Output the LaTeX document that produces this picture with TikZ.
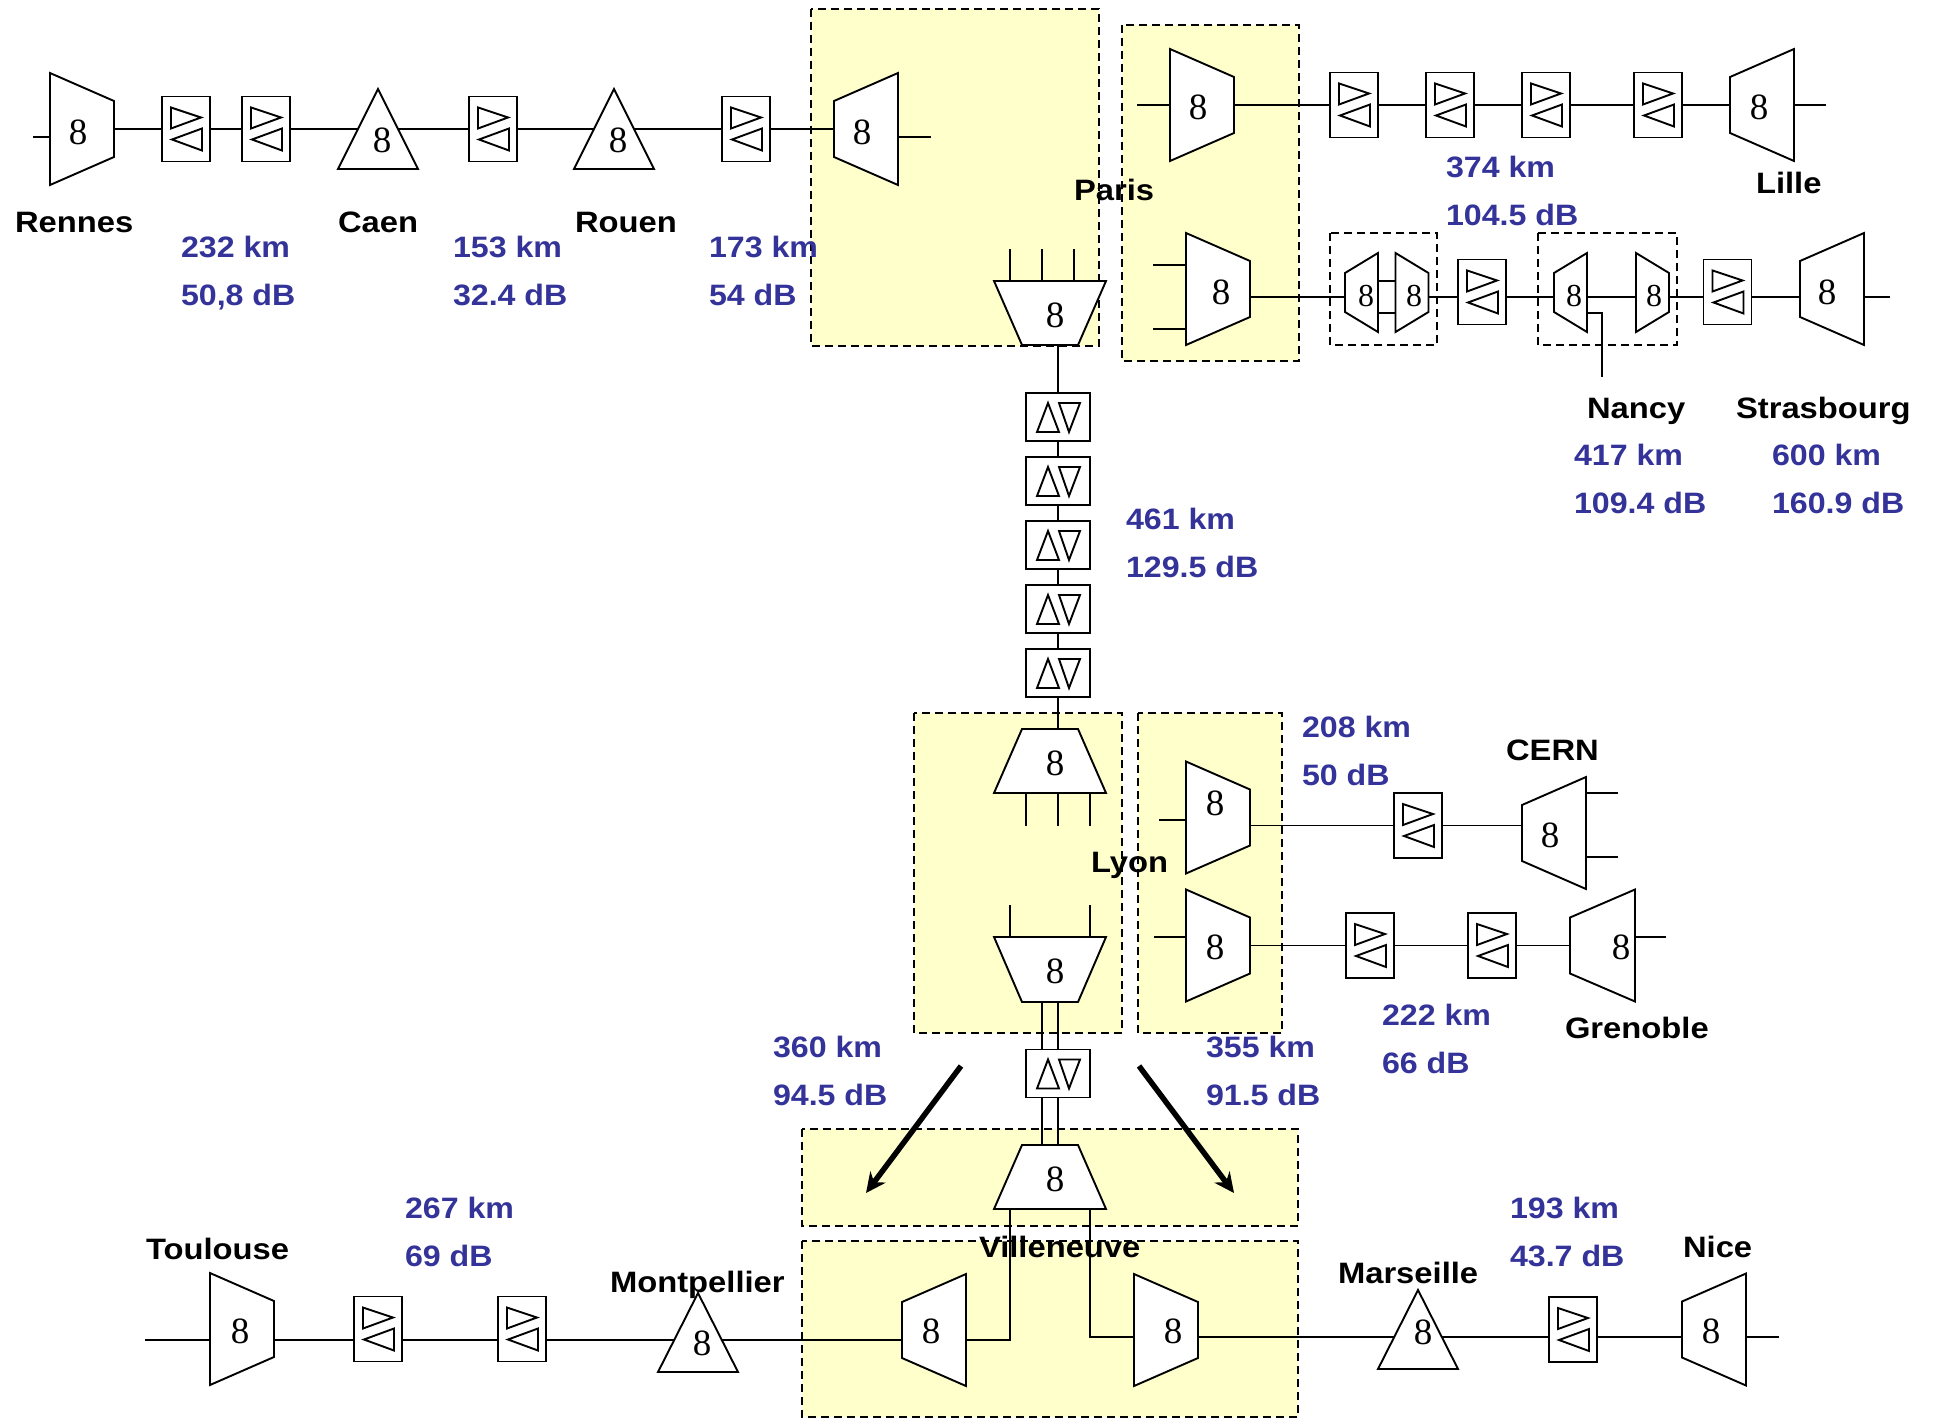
\documentclass[tikz,border=0pt]{standalone}
\usepackage{fontspec}
\usetikzlibrary{arrows.meta,calc}
\newfontfamily\lblfont{Liberation Sans}[FakeStretch=1.11]
\newfontfamily\kmfont{Liberation Sans}[FakeStretch=1.09]
\newfontfamily\digfont{Liberation Serif}
\definecolor{regionyellow}{HTML}{FFFFCC}
\definecolor{kmblue}{HTML}{333399}
\pgfdeclarelayer{bg}\pgfdeclarelayer{wires}\pgfsetlayers{bg,wires,main}
\tikzset{
 ln/.style={line width=1.9pt,line join=miter},
 wire/.style={ln},
 hollow/.style={ln,fill=white},
 region/.style={line width=1.6pt,dash pattern=on 8pt off 5pt,fill=regionyellow},
 plainregion/.style={line width=1.6pt,dash pattern=on 8pt off 5pt},
 slot/.style={inner sep=0pt,outer sep=0pt,anchor=center},
 ampbox/.style={ln,fill=white,inner sep=0pt,outer sep=0pt,anchor=center,rectangle,draw},
 digit/.style={inner sep=0pt,outer sep=0pt,anchor=center,font=\digfont\fontsize{37}{37}\selectfont},
 smalldigit/.style={inner sep=0pt,outer sep=0pt,anchor=center,font=\digfont\fontsize{32}{32}\selectfont},
 city/.style={inner sep=0pt,outer sep=0pt,anchor=base west,font=\lblfont\bfseries\fontsize{29.5}{29.5}\selectfont},
 dist/.style={inner sep=0pt,outer sep=0pt,anchor=base west,text=kmblue,font=\kmfont\bfseries\fontsize{29.5}{29.5}\selectfont},
 bigarrow/.style={line width=5.5pt,-{Stealth[length=20pt,width=19pt]}}
}
% name, cx, cy, w, h, cut, 8x, 8y
\newcommand{\muxW}[8]{\node[slot,minimum width=#4pt,minimum height=#5pt] (#1) at (#2,#3) {};
 \draw[hollow] (#1.north west) -- ([shift={(0,#6)}]#1.north east) -- ([shift={(0,-#6)}]#1.south east) -- (#1.south west) -- cycle;
 \node[digit] (#1-d) at (#7,#8) {8};}
\newcommand{\muxE}[8]{\node[slot,minimum width=#4pt,minimum height=#5pt] (#1) at (#2,#3) {};
 \draw[hollow] (#1.north east) -- (#1.south east) -- ([shift={(0,-#6)}]#1.south west) -- ([shift={(0,#6)}]#1.north west) -- cycle;
 \node[digit] (#1-d) at (#7,#8) {8};}
\newcommand{\muxN}[8]{\node[slot,minimum width=#4pt,minimum height=#5pt] (#1) at (#2,#3) {};
 \draw[hollow] (#1.north west) -- (#1.north east) -- ([shift={(-#6,0)}]#1.south east) -- ([shift={(#6,0)}]#1.south west) -- cycle;
 \node[digit] (#1-d) at (#7,#8) {8};}
\newcommand{\muxS}[8]{\node[slot,minimum width=#4pt,minimum height=#5pt] (#1) at (#2,#3) {};
 \draw[hollow] (#1.south west) -- (#1.south east) -- ([shift={(-#6,0)}]#1.north east) -- ([shift={(#6,0)}]#1.north west) -- cycle;
 \node[digit] (#1-d) at (#7,#8) {8};}
\newcommand{\smallW}[5]{\node[slot,minimum width=33pt,minimum height=79pt] (#1) at (#2,#3) {};
 \draw[hollow] (#1.north west) -- ([shift={(0,20)}]#1.north east) -- ([shift={(0,-20)}]#1.south east) -- (#1.south west) -- cycle;
 \node[smalldigit] (#1-d) at (#4,#5) {8};}
\newcommand{\smallE}[5]{\node[slot,minimum width=33pt,minimum height=79pt] (#1) at (#2,#3) {};
 \draw[hollow] (#1.north east) -- (#1.south east) -- ([shift={(0,-20)}]#1.south west) -- ([shift={(0,20)}]#1.north west) -- cycle;
 \node[smalldigit] (#1-d) at (#4,#5) {8};}
% name, cx, cy, w, h, 8x, 8y
\newcommand{\tri}[7]{\node[slot,minimum width=#4pt,minimum height=#5pt] (#1) at (#2,#3) {};
 \draw[hollow] (#1.north) -- (#1.south east) -- (#1.south west) -- cycle;
 \node[digit] (#1-d) at (#6,#7) {8};}
\newcommand{\ampH}[3]{\node[ampbox,minimum width=48pt,minimum height=65pt] (#1) at (#2,#3) {};
 \draw[ln] ([shift={(9,11)}]#1.north west) -- ([shift={(39,21)}]#1.north west) -- ([shift={(9,32)}]#1.north west) -- cycle;
 \draw[ln] ([shift={(40,32)}]#1.north west) -- ([shift={(10,43)}]#1.north west) -- ([shift={(40,54)}]#1.north west) -- cycle;}
\newcommand{\ampV}[3]{\node[ampbox,minimum width=64pt,minimum height=48pt] (#1) at (#2,#3) {};
 \draw[ln] ([shift={(11,39)}]#1.north west) -- ([shift={(22,10)}]#1.north west) -- ([shift={(33,39)}]#1.north west) -- cycle;
 \draw[ln] ([shift={(33,10)}]#1.north west) -- ([shift={(54,10)}]#1.north west) -- ([shift={(43,39)}]#1.north west) -- cycle;}
\begin{document}
\begin{tikzpicture}[x=1pt,y=-1pt]
\useasboundingbox (0,0) rectangle (1937,1418);
% regions
\begin{pgfonlayer}{bg}
\draw[region] (811,9) rectangle (1099,346);
\draw[region] (1122,25) rectangle (1299,361);
\draw[region] (914,713) rectangle (1122,1033);
\draw[region] (1138,713) rectangle (1282,1033);
\draw[region] (802,1129) rectangle (1298,1226);
\draw[region] (802,1241) rectangle (1298,1417);
\draw[plainregion] (1330,233) rectangle (1437,345);
\draw[plainregion] (1538,233) rectangle (1677,345);
\end{pgfonlayer}
% top-left row
\muxW{rennes}{82}{129}{64}{112}{28}{78}{132}
\ampH{ampA}{186}{129}
\ampH{ampB}{266}{129}
\tri{caen}{378}{129}{80}{80}{382}{140}
\ampH{ampC}{493}{129}
\tri{rouen}{614}{129}{80}{80}{618}{140}
\ampH{ampD}{746}{129}
\muxE{parisW}{866}{129}{64}{112}{28}{862}{132}
% Paris - Lille
\muxW{parisL}{1202}{105}{64}{112}{28}{1198}{107}
\ampH{ampE}{1354}{105}
\ampH{ampF}{1450}{105}
\ampH{ampG}{1546}{105}
\ampH{ampH}{1658}{105}
\muxE{lille}{1762}{105}{64}{112}{28}{1759}{107}
% Paris - Strasbourg
\muxW{parisS}{1218}{289}{64}{112}{28}{1221}{292}
\smallE{oadmA}{1361.5}{292.5}{1366}{296}
\smallW{oadmB}{1412}{292.5}{1414}{296}
\ampH{ampI}{1482}{292}
\smallE{nancyA}{1570.5}{292.5}{1574}{296}
\smallW{nancyB}{1652.5}{292.5}{1654}{296}
\ampH{ampJ}{1727.5}{292}
\muxE{stras}{1832}{289}{64}{112}{28}{1827}{292}
% Paris - Lyon
\muxN{parisD}{1050}{313}{112}{64}{28}{1055}{315}
\ampV{ampV1}{1058}{417}
\ampV{ampV2}{1058}{481}
\ampV{ampV3}{1058}{545}
\ampV{ampV4}{1058}{609}
\ampV{ampV5}{1058}{673}
\muxS{lyonU}{1050}{761}{112}{64}{28}{1055}{763}
\muxN{lyonD}{1050}{969.5}{112}{65}{28}{1055}{971}
\ampV{ampV6}{1058}{1073.5}
\muxS{villeS}{1050}{1177}{112}{64}{28}{1055}{1179}
% Lyon right
\muxW{lyonC}{1218}{817.5}{64}{112}{28}{1215}{803}
\ampH{ampK}{1418}{825.5}
\muxE{cern}{1554}{833}{64}{112}{28}{1550}{835}
\muxW{lyonG}{1218}{945.5}{64}{112}{28}{1215}{947}
\ampH{ampL}{1370}{945.5}
\ampH{ampM}{1492}{945.5}
\muxE{gren}{1602.5}{945.5}{65}{112}{28}{1621}{947}
% bottom row
\muxW{toul}{242}{1329}{64}{112}{28}{240}{1331}
\ampH{ampN}{378}{1329}
\ampH{ampO}{522}{1329}
\tri{montp}{698}{1332.5}{80}{79}{702}{1343}
\muxE{villeL}{934}{1330}{64}{112}{28}{931}{1331}
\muxW{villeR}{1166}{1330}{64}{112}{28}{1173}{1331}
\tri{mars}{1418}{1329.5}{80}{79}{1423}{1332}
\ampH{ampP}{1573}{1329.5}
\muxE{nice}{1714}{1329.5}{64}{112}{28}{1711}{1331}
% free ends
\coordinate (rennesIn) at (33,137);
\coordinate (parisWOut) at (931,137);
\coordinate (parisLIn) at (1137,105);
\coordinate (lilleOut) at (1826,105);
\coordinate (parisSInA) at (1153,265);
\coordinate (parisSInB) at (1153,329);
\coordinate (strasOut) at (1890,297);
\coordinate (rowS) at (0,297);
\coordinate (nancyDropA) at (1587,313);
\coordinate (nancyDropB) at (1602,313);
\coordinate (nancyDropC) at (1602,377);
\coordinate (lyonCIn) at (1159,820);
\coordinate (lyonGIn) at (1154,937);
\coordinate (cernOutA) at (1618,793);
\coordinate (cernOutB) at (1618,857);
\coordinate (grenOut) at (1666,937);
\coordinate (toulIn) at (145,1340);
\coordinate (niceOut) at (1779,1337);
\coordinate (rowB) at (0,1340);
\coordinate (rowC) at (0,1337);
\begin{pgfonlayer}{wires}
\draw[wire] (rennesIn) -- (rennesIn -| rennes.center);
\draw[wire] (rennes.east) -- (ampA.west);
\draw[wire] (ampA.east) -- (ampB.west);
\draw[wire] (ampB.east) -- (ampC.west);
\draw[wire] (ampC.east) -- (ampD.west);
\draw[wire] (ampD.east) -- (parisW.west);
\draw[wire] (parisW.center |- parisWOut) -- (parisWOut);
\draw[wire] (parisLIn) -- (parisL.center);
\draw[wire] (parisL.east) -- (ampE.west);
\draw[wire] (ampE.east) -- (ampF.west);
\draw[wire] (ampF.east) -- (ampG.west);
\draw[wire] (ampG.east) -- (ampH.west);
\draw[wire] (ampH.east) -- (lille.west);
\draw[wire] (lille.east) -- (lilleOut);
\draw[wire] (parisSInA) -- (parisSInA -| parisS.west);
\draw[wire] (parisSInB) -- (parisSInB -| parisS.west);
\draw[wire] (parisS.east |- rowS) -- (oadmA.center |- rowS);
\draw[wire] (oadmA.east |- 0,281) -- (oadmB.west |- 0,281);
\draw[wire] (oadmA.east |- 0,313) -- (oadmB.west |- 0,313);
\draw[wire] (oadmB.center |- rowS) -- (ampI.west |- rowS);
\draw[wire] (ampI.east |- rowS) -- (nancyA.center |- rowS);
\draw[wire] (nancyA.center |- rowS) -- (nancyB.center |- rowS);
\draw[wire] (nancyB.center |- rowS) -- (ampJ.west |- rowS);
\draw[wire] (ampJ.east |- rowS) -- (stras.center |- rowS);
\draw[wire] (stras.east |- rowS) -- (strasOut);
\draw[wire] (nancyDropA) -- (nancyDropB) -- (nancyDropC);
\draw[wire] (parisD.south -| ampV1) -- (ampV1.north);
\draw[wire] (1010,249) -- (parisD.north -| 1010,0);
\draw[wire] (1042,249) -- (parisD.north -| 1042,0);
\draw[wire] (1074,249) -- (parisD.north -| 1074,0);
\draw[wire] (ampV1.south) -- (ampV2.north);
\draw[wire] (ampV2.south) -- (ampV3.north);
\draw[wire] (ampV3.south) -- (ampV4.north);
\draw[wire] (ampV4.south) -- (ampV5.north);
\draw[wire] (ampV5.south) -- (lyonU.north -| ampV5);
\draw[wire] (lyonU.south -| 1026,0) -- (1026,826);
\draw[wire] (lyonU.south -| 1058,0) -- (1058,826);
\draw[wire] (lyonU.south -| 1090,0) -- (1090,826);
\draw[wire] (1010,905) -- (lyonD.north -| 1010,0);
\draw[wire] (1090,905) -- (lyonD.north -| 1090,0);
\draw[wire] (lyonD.south -| 1042,0) -- (ampV6.north -| 1042,0);
\draw[wire] (lyonD.south -| 1058,0) -- (ampV6.north -| 1058,0);
\draw[wire] (ampV6.south -| 1042,0) -- (villeS.north -| 1042,0);
\draw[wire] (ampV6.south -| 1058,0) -- (villeS.north -| 1058,0);
\draw[wire] (lyonCIn) -- (lyonCIn -| lyonC.center);
\draw[wire] (lyonC.east |- ampK.west) -- (ampK.west);
\draw[wire] (ampK.east) -- (cern.west |- ampK.east);
\draw[wire] (cern.east |- cernOutA) -- (cernOutA);
\draw[wire] (cern.east |- cernOutB) -- (cernOutB);
\draw[wire] (lyonGIn) -- (lyonGIn -| lyonG.center);
\draw[wire] (lyonG.east) -- (ampL.west);
\draw[wire] (ampL.east) -- (ampM.west);
\draw[wire] (ampM.east) -- (gren.west);
\draw[wire] (gren.east |- grenOut) -- (grenOut);
\draw[wire] (villeS.south -| 1010,0) -- (1010,1340) -- (villeL.east |- rowB);
\draw[wire] (villeS.south -| 1090,0) -- (1090,1337) -- (villeR.west |- rowC);
\draw[wire] (toulIn) -- (toul.center |- toulIn);
\draw[wire] (toul.east |- rowB) -- (ampN.west |- rowB);
\draw[wire] (ampN.east |- rowB) -- (ampO.west |- rowB);
\draw[wire] (ampO.east |- rowB) -- (montp.center |- rowB);
\draw[wire] (montp.center |- rowB) -- (villeL.center |- rowB);
\draw[wire] (villeR.center |- rowC) -- (mars.center |- rowC);
\draw[wire] (mars.center |- rowC) -- (ampP.west |- rowC);
\draw[wire] (ampP.east |- rowC) -- (nice.center |- rowC);
\draw[wire] (nice.center |- rowC) -- (niceOut);
\end{pgfonlayer}
% thick arrows
\coordinate (arrLs) at (961,1066);
\coordinate (arrLe) at (866,1193);
\coordinate (arrRs) at (1139,1066);
\coordinate (arrRe) at (1234,1193);
\draw[bigarrow] (arrLs) -- (arrLe);
\draw[bigarrow] (arrRs) -- (arrRe);
% city names
\node[city] (tRennes) at (15,232) {Rennes};
\node[city] (tCaen) at (338,232) {Caen};
\node[city] (tRouen) at (575,232) {Rouen};
\node[city] (tParis) at (1074,200) {Paris};
\node[city] (tLille) at (1756,193) {Lille};
\node[city] (tNancy) at (1587,418) {Nancy};
\node[city] (tStras) at (1736,418) {Strasbourg};
\node[city] (tLyon) at (1091,872) {Lyon};
\node[city] (tCern) at (1506,760) {CERN};
\node[city] (tGren) at (1565,1038) {Grenoble};
\node[city] (tVille) at (979,1257) {Villeneuve};
\node[city] (tToul) at (146,1259) {Toulouse};
\node[city] (tMontp) at (610,1292) {Montpellier};
\node[city] (tMars) at (1338,1283) {Marseille};
\node[city] (tNice) at (1683,1257) {Nice};
% distances
\node[dist] (k1) at (181,257) {232 km};
\node[dist] (d1) at (181,305) {50,8 dB};
\node[dist] (k2) at (453,257) {153 km};
\node[dist] (d2) at (453,305) {32.4 dB};
\node[dist] (k3) at (709,257) {173 km};
\node[dist] (d3) at (709,305) {54 dB};
\node[dist] (k4) at (1446,177) {374 km};
\node[dist] (d4) at (1446,225) {104.5 dB};
\node[dist] (k5) at (1574,465) {417 km};
\node[dist] (d5) at (1574,513) {109.4 dB};
\node[dist] (k6) at (1772,465) {600 km};
\node[dist] (d6) at (1772,513) {160.9 dB};
\node[dist] (k7) at (1126,529) {461 km};
\node[dist] (d7) at (1126,577) {129.5 dB};
\node[dist] (k8) at (1302,737) {208 km};
\node[dist] (d8) at (1302,785) {50 dB};
\node[dist] (k9) at (1382,1025) {222 km};
\node[dist] (d9) at (1382,1073) {66 dB};
\node[dist] (k10) at (773,1057) {360 km};
\node[dist] (d10) at (773,1105) {94.5 dB};
\node[dist] (k11) at (1206,1057) {355 km};
\node[dist] (d11) at (1206,1105) {91.5 dB};
\node[dist] (k12) at (405,1218) {267 km};
\node[dist] (d12) at (405,1266) {69 dB};
\node[dist] (k13) at (1510,1218) {193 km};
\node[dist] (d13) at (1510,1266) {43.7 dB};
\end{tikzpicture}
\end{document}
